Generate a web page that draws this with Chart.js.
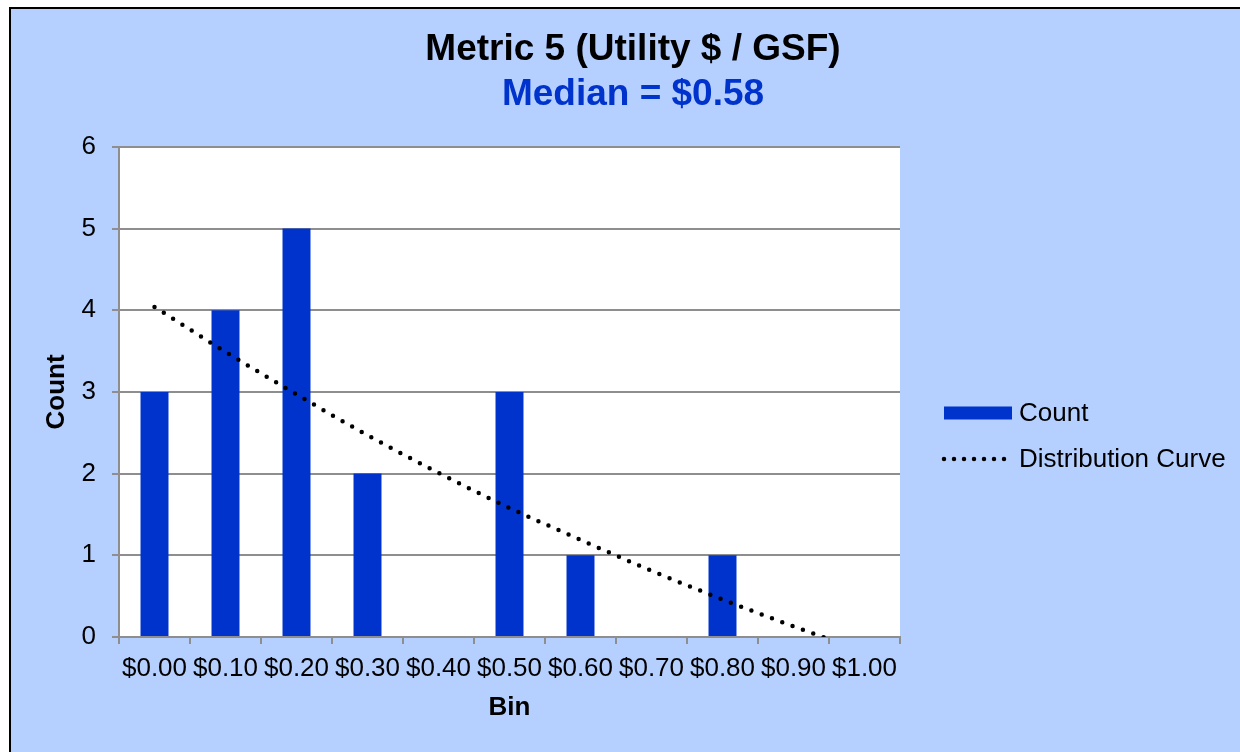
<!DOCTYPE html>
<html>
<head>
<meta charset="utf-8">
<script src="https://cdn.jsdelivr.net/npm/chart.js@4"></script>
<style>
  body { margin: 0; background: #fff; }
  #wrap { width: 1240px; height: 752px; }
</style>
</head>
<body>
<div id="wrap"><canvas id="histo" width="1240" height="752"></canvas></div>
<script>
const bins = ['$0.00', '$0.10', '$0.20', '$0.30', '$0.40', '$0.50', '$0.60', '$0.70', '$0.80', '$0.90', '$1.00'];
const counts = [3, 4, 5, 2, 0, 3, 1, 0, 1, 0, 0];
const curve = [4.04, 3.49, 2.97, 2.47, 2.01, 1.58, 1.19, 0.81, 0.46, 0.13, -0.18];

const FONT = '"Liberation Sans", Arial, sans-serif';
const BLUE = '#0033cc';
const GRID = '#8e8e8e';

// light blue backdrop, black frame and white plot area
const backdrop = {
    id: 'backdrop',
    beforeDraw(chart) {
        const c = chart.ctx;
        const a = chart.chartArea;
        c.save();
        c.fillStyle = '#fff';
        c.fillRect(0, 0, chart.width, chart.height);
        c.fillStyle = '#b5cfff';
        c.fillRect(9, 7, chart.width, chart.height);
        c.strokeStyle = '#000';
        c.lineWidth = 2;
        c.beginPath();
        c.moveTo(10, chart.height);
        c.lineTo(10, 8);
        c.lineTo(chart.width, 8);
        c.stroke();
        c.fillStyle = '#fff';
        c.fillRect(a.left, a.top, a.right - a.left, a.bottom - a.top);
        c.restore();
    }
};

// legend to the right of the plot, drawn from the dataset styles
const sideLegend = {
    id: 'sideLegend',
    afterDraw(chart) {
        const c = chart.ctx;
        const x0 = chart.chartArea.right + 44;
        const rows = [chart.data.datasets[1], chart.data.datasets[0]];
        c.save();
        c.font = '26px ' + FONT;
        c.textBaseline = 'middle';
        c.fillStyle = '#000';
        rows.forEach((ds, i) => {
            const y = 413 + i * 46;
            if (ds.type === 'line') {
                c.strokeStyle = ds.borderColor;
                c.lineWidth = ds.borderWidth;
                c.lineCap = ds.borderCapStyle;
                c.setLineDash([0, 10]);
                c.beginPath();
                c.moveTo(x0, y);
                c.lineTo(x0 + 70, y);
                c.stroke();
                c.setLineDash([]);
            } else {
                c.fillStyle = ds.backgroundColor;
                c.fillRect(x0, y - 6.5, 68, 13);
            }
            c.fillStyle = '#000';
            c.fillText(ds.label, x0 + 75, y + 1);
        });
        c.restore();
    }
};

new Chart(document.getElementById('histo'), {
    type: 'bar',
    data: {
        labels: bins,
        datasets: [{
            type: 'line',
            label: 'Distribution Curve',
            data: curve,
            borderColor: '#000',
            borderWidth: 4.5,
            borderDash: [0, 11],
            borderCapStyle: 'round',
            pointRadius: 0,
            cubicInterpolationMode: 'monotone',
            fill: false,
            clip: {left: 10, top: 10, right: 10, bottom: 0}
        }, {
            label: 'Count',
            data: counts,
            backgroundColor: BLUE,
            borderWidth: 0,
            categoryPercentage: 1,
            barPercentage: 0.394
        }]
    },
    options: {
        responsive: false,
        animation: false,
        layout: { padding: { left: 26, right: 0, top: 0, bottom: 0 } },
        scales: {
            x: {
                grid: { drawOnChartArea: false, drawTicks: true, tickLength: 7, offset: true, color: GRID, lineWidth: 2 },
                border: { color: GRID, width: 2 },
                ticks: { color: '#000', font: { family: FONT, size: 26 }, padding: 9, autoSkip: false, maxRotation: 0, minRotation: 0 },
                title: { display: true, text: 'Bin', color: '#000', font: { family: FONT, size: 26, weight: 'bold' }, padding: { top: 0, bottom: 29 } },
                afterFit(s) { s.height = 115; }
            },
            y: {
                min: 0,
                max: 6,
                grid: { color: GRID, lineWidth: 2, tickLength: 7 },
                border: { color: GRID, width: 2 },
                ticks: { stepSize: 1, color: '#000', font: { family: FONT, size: 26 }, padding: 16 },
                title: { display: true, text: 'Count', color: '#000', font: { family: FONT, size: 26, weight: 'bold' }, padding: { top: 15, bottom: 0 } },
                afterFit(s) { s.width = 93; }
            },
            // room for the legend right of the plot
            gap: {
                type: 'linear',
                position: 'right',
                grid: { display: false },
                border: { display: false },
                ticks: { display: false },
                afterFit(s) { s.width = 340; }
            }
        },
        plugins: {
            title: {
                display: true,
                text: 'Metric 5 (Utility $ / GSF)',
                color: '#000',
                font: { family: FONT, size: 37, weight: 'bold' },
                padding: { top: 28, bottom: 0 }
            },
            subtitle: {
                display: true,
                text: 'Median = $0.58',
                color: BLUE,
                font: { family: FONT, size: 37, weight: 'bold' },
                padding: { top: 0, bottom: 30 }
            },
            legend: { display: false },
            tooltip: { enabled: false }
        }
    },
    plugins: [backdrop, sideLegend]
});
</script>
</body>
</html>
